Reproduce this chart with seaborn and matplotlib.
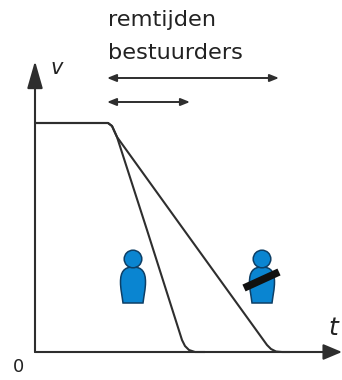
import matplotlib
matplotlib.use("Agg")
import matplotlib.pyplot as plt
import pandas as pd
import seaborn as sns
from matplotlib.patches import Circle, PathPatch
from matplotlib.path import Path

# Schematic values, measured from the origin of the diagram (t right, v up)
t_short = [0, 73, 77, 82, 112, 147, 150, 154, 160, 170]
v_short = [229, 229, 226, 215, 122, 12, 6, 2, 0, 0]
t_long = [0, 73, 77, 82, 149, 232, 236, 241, 247, 255]
v_long = [229, 229, 226, 215, 122, 7, 3, 0.5, 0, 0]
title_lines = ["remtijden", "bestuurders"]
x_name, y_name, origin_name = "t", "v", "0"

LINE = "#2e2e2e"
BLUE = "#0a85d1"
X0, Y0 = 35, 352  # pixel position of the origin

sns.set_theme(style="white")
fig = plt.figure(figsize=(3.42, 3.80), dpi=100)
ax = fig.add_axes([0, 0, 1, 1])

df = pd.concat([
    pd.DataFrame({"t": t_short, "v": v_short, "who": "zonder"}),
    pd.DataFrame({"t": t_long, "v": v_long, "who": "met"}),
])
sns.lineplot(data=df, x="t", y="v", units="who", estimator=None, sort=False,
             color=LINE, linewidth=1.5, legend=False, ax=ax, zorder=3)
ax.set_xlim(-X0, 342 - X0)
ax.set_ylim(Y0 - 380, Y0)
ax.axis("off")

# Axes with arrowheads
ax.annotate("", xy=(307, 0), xytext=(0, 0),
            arrowprops=dict(arrowstyle="-|>,head_length=0.95,head_width=0.4",
                            color=LINE, lw=1.5, shrinkA=0, shrinkB=0))
ax.annotate("", xy=(0, 291), xytext=(0, 0),
            arrowprops=dict(arrowstyle="-|>,head_length=1.4,head_width=0.4",
                            color=LINE, lw=1.5, shrinkA=0, shrinkB=0))

# Reaction time arrows
for x_end, y_arrow in [(244, 274), (155, 250)]:
    ax.annotate("", xy=(x_end, y_arrow), xytext=(72, y_arrow),
                arrowprops=dict(arrowstyle="<|-|>,head_length=0.45,head_width=0.18",
                                color=LINE, lw=1.4, shrinkA=0, shrinkB=0))


def person(cx):
    base = 49
    top = 85
    verts = [(cx - 10, base),
             (cx - 11, base + 8), (cx - 12.5, base + 14), (cx - 12.5, base + 21),
             (cx - 12.5, base + 31), (cx - 9, top), (cx, top),
             (cx + 9, top), (cx + 12.5, base + 31), (cx + 12.5, base + 21),
             (cx + 12.5, base + 14), (cx + 11, base + 8), (cx + 10, base),
             (cx - 10, base)]
    codes = [Path.MOVETO] + [Path.CURVE4] * 12 + [Path.CLOSEPOLY]
    ax.add_patch(PathPatch(Path(verts, codes), fc=BLUE, ec="#0d3f66", lw=1.1, zorder=4))
    ax.add_patch(Circle((cx, 93), 8.8, fc=BLUE, ec="#0d3f66", lw=1.1, zorder=4))


person(98)
person(227)
ax.plot([209, 244], [64, 80], color="#111111", lw=5.4, solid_capstyle="butt", zorder=5)

# Text
ax.text(73, 332, title_lines[0], fontsize=16.2, color="#222222", va="center", ha="left")
ax.text(73, 299, title_lines[1], fontsize=16.2, color="#222222", va="center", ha="left")
ax.text(22, 284, y_name, fontsize=15, style="italic", color="#222222", va="center", ha="center")
ax.text(298, 24, x_name, fontsize=18, style="italic", color="#222222", va="center", ha="center")
ax.text(-16, -15, origin_name, fontsize=13, color="#222222", va="center", ha="center")

fig.savefig("out.png", dpi=100)
